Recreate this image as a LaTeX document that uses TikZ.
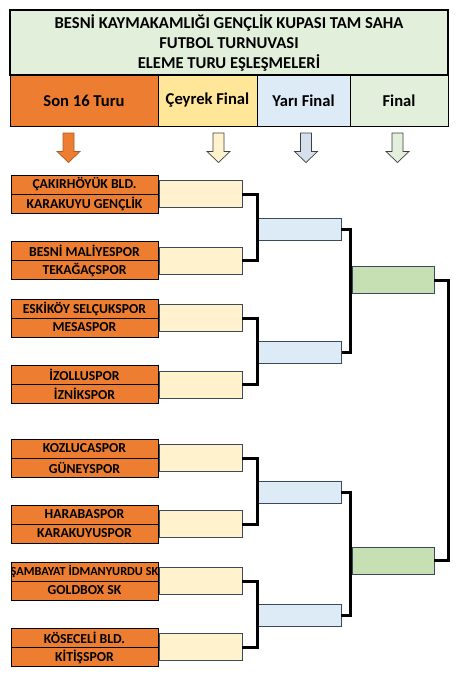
\documentclass[tikz,border=0pt]{standalone}
\usepackage{fontspec}
\setmainfont{Carlito}
\definecolor{orng}{HTML}{ED7D31}
\definecolor{orngdk}{HTML}{AE5A21}
\definecolor{qfill}{HTML}{FFF2CC}
\definecolor{hqf}{HTML}{FFE699}
\definecolor{sfill}{HTML}{DDEBF7}
\definecolor{ffill}{HTML}{C6E0B4}
\definecolor{tgreen}{HTML}{E2EFDA}
\definecolor{slate}{HTML}{3B4A5A}
\newcommand\dnarrow[3]{\filldraw[fill=#2,draw=#3,line width=0.7pt] (#1,133) ++(-5.5,0) -- ++(11,0) -- ++(0,18.5) -- ++(6,0) -- (#1,162.5) -- ++(-11.5,-11) -- ++(6,0) -- cycle;}
\begin{document}
\begin{tikzpicture}[x=1pt,y=-1pt,
  box/.style={rectangle,inner sep=0pt,outer sep=0pt,font=\bfseries},
  teamfont/.style={font=\bfseries\fontsize{13.7}{15}\selectfont},
  team/.style={box,draw=black,line width=0.8pt,fill=orng,minimum width=147pt,minimum height=19pt,teamfont},
  qf/.style={box,draw=slate,line width=0.8pt,fill=qfill,minimum width=83pt,minimum height=27pt},
  sf/.style={box,draw=slate,line width=0.8pt,fill=sfill,minimum width=83pt,minimum height=22pt},
  fin/.style={box,draw=slate,line width=0.8pt,fill=ffill,minimum width=82pt,minimum height=27pt},
  head/.style={box,draw=black,line width=0.8pt,minimum height=51pt,font=\bfseries\fontsize{16.6}{18}\selectfont},
  bracket/.style={draw=black,line width=3pt}]
\useasboundingbox (0,0) rectangle (470,680);
% title
\node[box,draw=black,line width=2pt,fill=tgreen,minimum width=438pt,minimum height=65pt,align=center,
  font=\bfseries\fontsize{16.6}{20}\selectfont] (title) at (229,42.5)
  {BESNİ KAYMAKAMLIĞI GENÇLİK KUPASI TAM SAHA\\FUTBOL TURNUVASI\\ELEME TURU EŞLEŞMELERİ};
% header
\node[head,fill=orng,minimum width=148pt] (h1) at (84,100.5) {Son 16 Turu};
\node[head,fill=hqf,minimum width=99pt] (h2) at (207.5,100.5) {Çeyrek Final};
\node[head,fill=sfill,minimum width=93pt] (h3) at (303.5,100.5) {Yarı Final};
\node[head,fill=tgreen,minimum width=98pt] (h4) at (399,100.5) {Final};
% arrows
\dnarrow{68.5}{orng}{orngdk}
\dnarrow{218.5}{qfill}{black!75}
\dnarrow{306}{sfill!90!gray}{black!75}
\dnarrow{397.5}{tgreen}{black!75}
% teams
\foreach \n/\y/\a/\b in {1/194/ÇAKIRHÖYÜK BLD./KARAKUYU GENÇLİK,
  2/260.5/BESNİ MALİYESPOR/TEKAĞAÇSPOR,
  3/318/ESKİKÖY SELÇUKSPOR/MESASPOR,
  4/384.5/İZOLLUSPOR/İZNİKSPOR,
  5/458/KOZLUCASPOR/GÜNEYSPOR,
  6/524/HARABASPOR/KARAKUYUSPOR,
  8/647/KÖSECELİ BLD./KİTİŞSPOR}{
  \node[team] (t\n a) at (84.5,\y-9.5) {\a};
  \node[team] (t\n b) at (84.5,\y+9.5) {\b};
}
% clipped long name
\node[team,path picture={\node[font=\bfseries\fontsize{12.3}{15}\selectfont,inner sep=0pt] at (path picture bounding box.center) {ŞAMBAYAT İDMANYURDU SK};}] (t7a) at (84.5,571.5) {};
\node[team] (t7b) at (84.5,590.5) {GOLDBOX SK};
% quarterfinal boxes
\foreach \n/\y in {1/194,2/260.5,3/318,4/384.5,5/458,6/524,7/581,8/647}{
  \node[qf] (q\n) at (200.5,\y) {};
}
% semifinal boxes
\node[sf] (s1) at (299.5,229) {};
\node[sf] (s2) at (300,352) {};
\node[sf] (s3) at (299.5,492) {};
\node[sf] (s4) at (299.5,615.5) {};
% finals
\node[fin] (f1) at (393,280) {};
\node[fin] (f2) at (393,560.5) {};
\coordinate (fb) at (448,280);
% brackets
\draw[bracket] (q1.east) -| ([xshift=-1pt]s1.west |- q2.east) -- (q2.east);
\draw[bracket] (q3.east) -| ([xshift=-1pt]s1.west |- q4.east) -- (q4.east);
\draw[bracket] (q5.east) -| ([xshift=-1pt]s3.west |- q6.east) -- (q6.east);
\draw[bracket] (q7.east) -| ([xshift=-1pt]s3.west |- q8.east) -- (q8.east);
\draw[bracket] (s1.east) -| ([xshift=-1.5pt]f1.west |- s2.east) -- (s2.east);
\draw[bracket] (s3.east) -| ([xshift=-1.5pt]f1.west |- s4.east) -- (s4.east);
\draw[bracket] (f1.east) -| (fb |- f2.east) -- (f2.east);
\end{tikzpicture}
\end{document}
